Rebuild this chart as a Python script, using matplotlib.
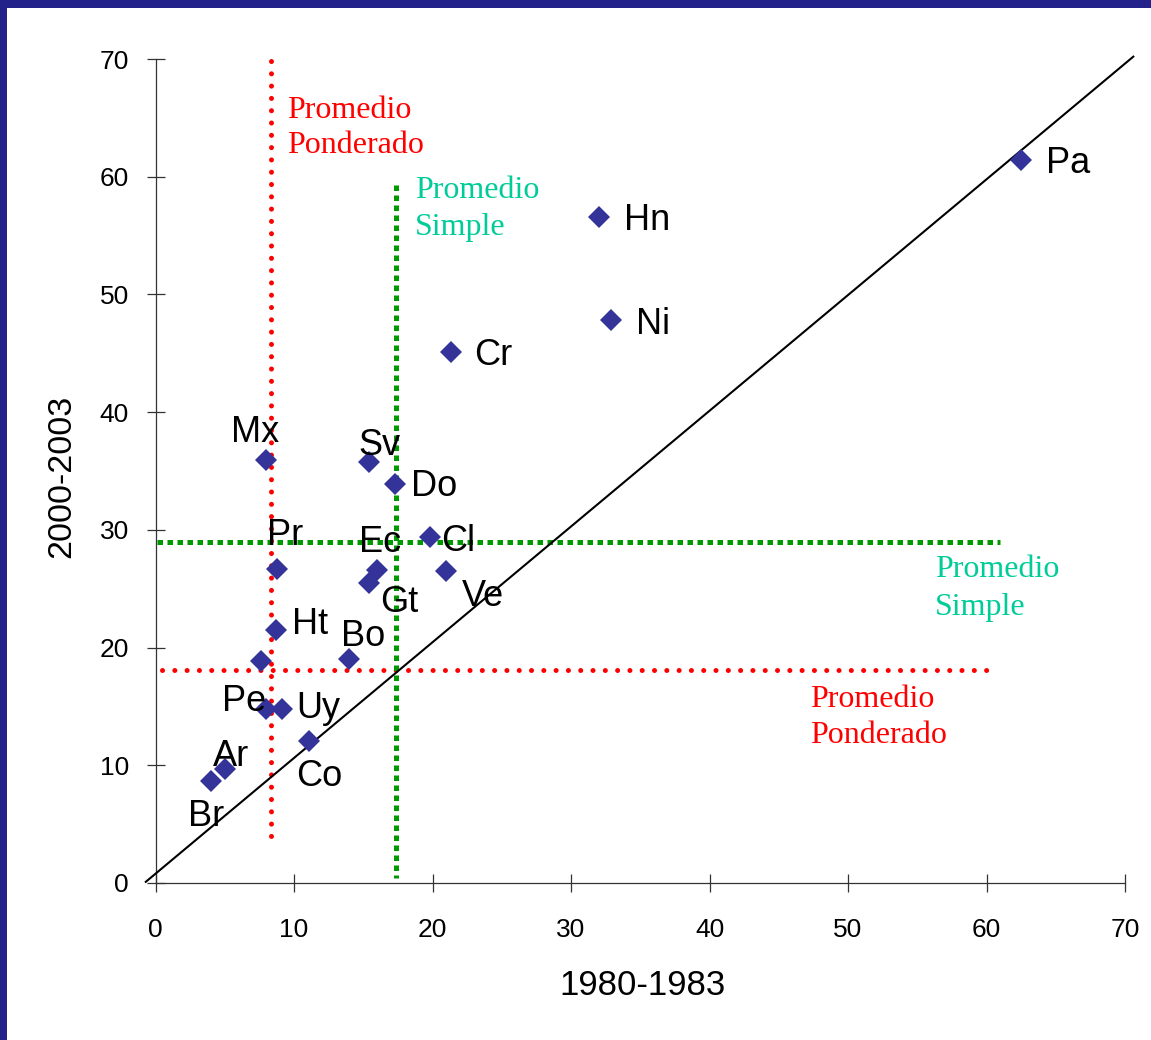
import matplotlib
matplotlib.use('Agg')
import matplotlib.pyplot as plt
from matplotlib.patches import Rectangle

# country codes and values (1980-1983 vs 2000-2003)
codes = ['Pa', 'Hn', 'Ni', 'Cr', 'Mx', 'Sv', 'Do', 'Cl', 'Pr', 'Ec',
         'Gt', 'Ve', 'Ht', '', 'Bo', 'Pe', 'Uy', 'Co', 'Ar', 'Br']
x_8083 = [62.5, 32.0, 32.9, 21.3, 8.0, 15.4, 17.3, 19.8, 8.8, 16.0,
          15.4, 21.0, 8.7, 7.6, 14.0, 8.0, 9.1, 11.1, 5.0, 4.0]
y_0003 = [61.4, 56.6, 47.8, 45.1, 35.9, 35.8, 33.9, 29.4, 26.7, 26.6,
          25.5, 26.5, 21.5, 18.9, 19.0, 14.8, 14.8, 12.1, 9.7, 8.7]

# averages
pond_x, pond_y = 8.34, 18.09      # promedio ponderado
simple_x, simple_y = 17.34, 28.94  # promedio simple

# 45 degree reference line
diag_x = [-0.7, 70.6]
diag_y = [0.1, 70.2]

x_ticks = [0, 10, 20, 30, 40, 50, 60, 70]
y_ticks = [0, 10, 20, 30, 40, 50, 60, 70]

# label offsets in pixels (dx, dy down, ha)
OFFSETS = {
    'Pa': (25, 13, 'left'), 'Hn': (25, 13, 'left'), 'Ni': (25, 14, 'left'),
    'Cr': (24, 13, 'left'), 'Mx': (-11, -18, 'center'), 'Sv': (11, -7, 'center'),
    'Do': (16, 12, 'left'), 'Cl': (11, 14, 'left'), 'Pr': (-10, -24, 'left'),
    'Ec': (-18, -18, 'left'), 'Gt': (11, 29, 'left'), 'Ve': (15, 35, 'left'),
    'Ht': (16, 4, 'left'), 'Bo': (-8, -13, 'left'), 'Pe': (0, 2, 'right'),
    'Uy': (15, 9, 'left'), 'Co': (-13, 45, 'left'), 'Ar': (-12, -3, 'left'),
    'Br': (-23, 45, 'left'),
}

RED = '#ff0000'
GREEN_LINE = '#009900'
GREEN_TEXT = '#00cc99'
MARKER = '#333399'
NAVY = '#22228a'
SANS = 'Liberation Sans'
SERIF = 'Liberation Serif'

fig = plt.figure(figsize=(11.51, 10.40), dpi=100)
fig.patch.set_facecolor('white')
fig.patches.append(Rectangle((0, 1 - 8 / 1040), 1, 8 / 1040, transform=fig.transFigure,
                             facecolor=NAVY, edgecolor='none', zorder=0))
fig.patches.append(Rectangle((0, 0), 7 / 1151, 1, transform=fig.transFigure,
                             facecolor=NAVY, edgecolor='none', zorder=0))

ax = fig.add_axes([155.5 / 1151, 1 - 883 / 1040, (1125 - 155.5) / 1151, (883 - 59) / 1040])
ax.set_xlim(0, 70)
ax.set_ylim(0, 70)

# reference lines
px = 72 / 100  # points per pixel
ax.plot([pond_x, pond_x], [69.8, 3.8], color=RED, lw=5 * px, dashes=(0.01, 2.45),
        dash_capstyle='round', zorder=2)
ax.plot([0.47, 60.1], [pond_y, pond_y], color=RED, lw=5 * px, dashes=(0.01, 2.45),
        dash_capstyle='round', zorder=2)
ax.plot([simple_x, simple_x], [59.3, 0.4], color=GREEN_LINE, lw=5 * px, dashes=(1.1, 0.9),
        dash_capstyle='butt', zorder=2)
ax.plot([0.1, 61.0], [simple_y, simple_y], color=GREEN_LINE, lw=5 * px, dashes=(1.1, 0.9),
        dash_capstyle='butt', zorder=2)
ax.plot(diag_x, diag_y, color='black', lw=1.5, clip_on=False, zorder=3)

ax.plot(x_8083, y_0003, linestyle='none', marker='D', ms=11, color=MARKER,
        markeredgewidth=0, zorder=4, clip_on=False)

for code, xv, yv in zip(codes, x_8083, y_0003):
    if not code:
        continue
    dx, dy, ha = OFFSETS[code]
    ax.annotate(code, (xv, yv), xytext=(dx * px, -dy * px), textcoords='offset points',
                ha=ha, va='baseline', fontsize=26, family=SANS, color='black', zorder=5)

# average labels
ax.text(9.49, 64.96, 'Promedio', color=RED, fontsize=23, family=SERIF, va='baseline')
ax.text(9.49, 61.98, 'Ponderado', color=RED, fontsize=23, family=SERIF, va='baseline')
ax.text(18.74, 58.15, 'Promedio', color=GREEN_TEXT, fontsize=23, family=SERIF, va='baseline')
ax.text(18.74, 55.05, 'Simple', color=GREEN_TEXT, fontsize=23, family=SERIF, va='baseline')
ax.text(56.28, 25.97, 'Promedio', color=GREEN_TEXT, fontsize=23, family=SERIF, va='baseline')
ax.text(56.28, 22.8, 'Simple', color=GREEN_TEXT, fontsize=23, family=SERIF, va='baseline')
ax.text(47.26, 14.91, 'Promedio', color=RED, fontsize=23, family=SERIF, va='baseline')
ax.text(47.26, 11.93, 'Ponderado', color=RED, fontsize=23, family=SERIF, va='baseline')

# axes styling
for spine in ['top', 'right']:
    ax.spines[spine].set_visible(False)
for spine in ['left', 'bottom']:
    ax.spines[spine].set_color('#333333')
    ax.spines[spine].set_linewidth(0.9)
ax.set_xticks(x_ticks)
ax.set_yticks(y_ticks)
ax.tick_params(axis='both', direction='inout', length=13, width=0.9, color='#333333',
               labelsize=19)
ax.tick_params(axis='y', pad=12.5)
ax.tick_params(axis='x', pad=18.5)
for lab in ax.get_xticklabels() + ax.get_yticklabels():
    lab.set_fontfamily(SANS)

fig.text(642 / 1151, 1 - 985.5 / 1040, '1980-1983', ha='center', va='center',
         fontsize=25, family=SANS)
fig.text(61.5 / 1151, 1 - 476 / 1040, '2000-2003', ha='center', va='center',
         rotation=90, fontsize=24.5, family=SANS)

plt.savefig('out.png', dpi=100, facecolor='white')
plt.close()
